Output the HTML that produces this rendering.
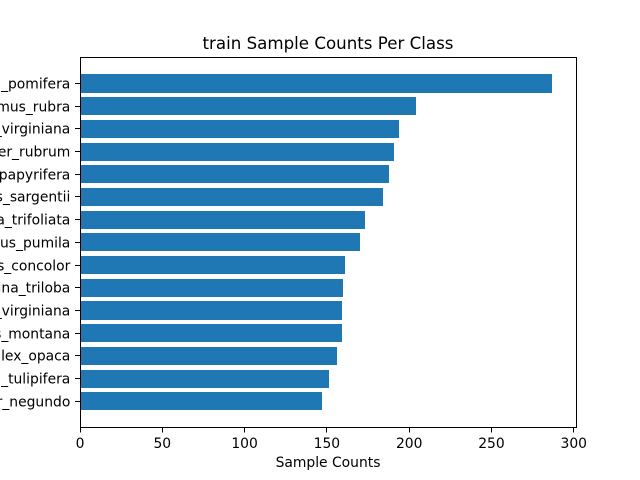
<!DOCTYPE html>
<html>
<head>
<meta charset="utf-8">
<title>train Sample Counts Per Class</title>
<style>
html,body{margin:0;padding:0;background:#fff;width:640px;height:480px;overflow:hidden}
svg{display:block}
text{font-family:"DejaVu Sans","Liberation Sans",sans-serif;fill:#000}
</style>
</head>
<body>
<svg id="chart" xmlns="http://www.w3.org/2000/svg" width="640" height="480" viewBox="0 0 640 480">
<rect x="0" y="0" width="640" height="480" fill="#fff"/>
<g id="bars"></g>
<g id="ticks"></g>
<g shape-rendering="crispEdges" stroke="#000" stroke-width="1" fill="none">
<line x1="80.5" y1="57.5" x2="80.5" y2="427.5"/>
<line x1="576.5" y1="57.5" x2="576.5" y2="427.5"/>
<line x1="80" y1="57.5" x2="577" y2="57.5"/>
<line x1="80" y1="427.5" x2="577" y2="427.5"/>
</g>
<text x="328" y="49" font-size="16.67" text-anchor="middle">train Sample Counts Per Class</text>
<text x="328" y="467" font-size="13.89" text-anchor="middle">Sample Counts</text>
</svg>
<script>
const categories = ["Acer_negundo","Liriodendron_tulipifera","Ilex_opaca","Quercus_montana","Pinus_virginiana","Asimina_triloba","Abies_concolor","Ulmus_pumila","Ptelea_trifoliata","Prunus_sargentii","Broussonetia_papyrifera","Acer_rubrum","Juniperus_virginiana","Ulmus_rubra","Maclura_pomifera"];
const seriesValues = [147,151,156,159,159,160,161,170,173,184,188,191,194,204,287];
const xTickLabels = [0,50,100,150,200,250,300];

const NS = "http://www.w3.org/2000/svg";
const axLeft = 80, axRight = 576, axTop = 57.6, axBottom = 427.2;
const barHalf = 0.4;
const maxValue = Math.max.apply(null, seriesValues);
const xMax = maxValue * 1.05;
const yPad = (categories.length - 1 + 2 * barHalf) * 0.05;
const yMin = -barHalf - yPad;
const yMax = categories.length - 1 + barHalf + yPad;
function xScale(v){ return axLeft + (v / xMax) * (axRight - axLeft); }
function yScale(i){ return axBottom - ((i - yMin) / (yMax - yMin)) * (axBottom - axTop); }
function mk(tag, attrs){
  const el = document.createElementNS(NS, tag);
  for (const k in attrs) el.setAttribute(k, attrs[k]);
  return el;
}
const barsG = document.getElementById("bars");
const ticksG = document.getElementById("ticks");

seriesValues.forEach(function(v, i){
  const y0 = Math.round(yScale(i + barHalf));
  const y1 = Math.round(yScale(i - barHalf));
  const x1 = Math.round(xScale(v));
  const bar = mk("rect", {x: axLeft, y: y0, width: x1 - axLeft, height: y1 - y0, fill: "#1f77b4", "shape-rendering": "crispEdges"});
  
  
  barsG.appendChild(bar);
});

categories.forEach(function(c, i){
  const y = Math.floor(yScale(i)) + 0.5;
  const tick = mk("line", {x1: axLeft - 5, x2: axLeft, y1: y, y2: y, stroke: "#000", "stroke-width": 1, "shape-rendering": "crispEdges"});
  
  
  ticksG.appendChild(tick);
  const label = mk("text", {x: axLeft - 9.7, y: Math.floor(yScale(i)) + 5.5, "font-size": 13.89, "text-anchor": "end"});
  
  
  label.textContent = c;
  ticksG.appendChild(label);
});

xTickLabels.forEach(function(t){
  const x = Math.floor(xScale(t)) + 0.5;
  const tick = mk("line", {x1: x, x2: x, y1: axBottom, y2: axBottom + 5.4, stroke: "#000", "stroke-width": 1, "shape-rendering": "crispEdges"});
  
  
  ticksG.appendChild(tick);
  const label = mk("text", {x: xScale(t), y: 448, "font-size": 13.89, "text-anchor": "middle"});
  
  
  label.textContent = t;
  ticksG.appendChild(label);
});
</script>
</body>
</html>
